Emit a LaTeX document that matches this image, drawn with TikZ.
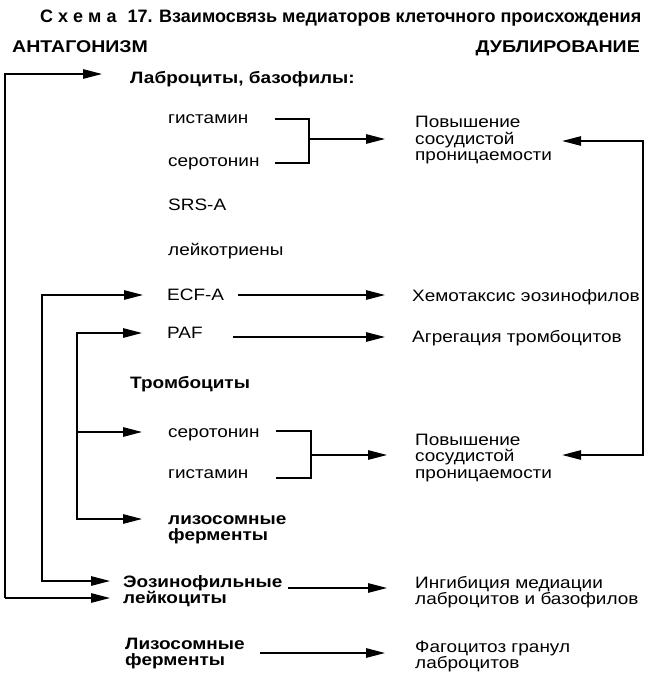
\documentclass[tikz,border=0pt]{standalone}
\usepackage{fontspec}
\setmainfont{Liberation Sans}[FakeStretch=1.15]
\newfontfamily\titlefont{Liberation Sans}
\usetikzlibrary{arrows.meta}
\begin{document}
\begin{tikzpicture}[x=1pt,y=-1pt,
  txt/.style={anchor=base west, inner sep=0pt, align=left, font=\fontsize{16.5}{16.5}\selectfont},
  btxt/.style={anchor=base west, inner sep=0pt, align=left, font=\fontsize{16.5}{16.5}\selectfont\bfseries},
  head/.style={btxt, font=\fontsize{17}{17}\selectfont\bfseries},
  ln/.style={line width=1.3pt},
  arr/.style={ln, -{Triangle[length=19pt,width=9.5pt]}}]
\useasboundingbox[fill=white] (0,0) rectangle (651,676);

% texts (base = baseline of the last line)
\node[btxt, font=\titlefont\fontsize{18}{18}\selectfont\bfseries] (title) at (40,23) {С х е м а\hspace{6pt} 17. Взаимосвязь медиаторов клеточного происхождения};
\node[head] (antag) at (12,53) {АНТАГОНИЗМ};
\node[head, anchor=base east] (dubl) at (640,53) {ДУБЛИРОВАНИЕ};
\node[btxt] (labr) at (130,84) {Лаброциты, базофилы:};
\node[txt] (gist1) at (168,124) {гистамин};
\node[txt] (ser1) at (168,167) {серотонин};
\node[txt] (pov1) at (415,161) {Повышение\\сосудистой\\проницаемости};
\node[txt] (srs) at (168,211) {SRS-A};
\node[txt] (leik) at (168,255) {лейкотриены};
\node[txt] (ecf) at (167,300) {ECF-A};
\node[txt] (hemo) at (412,301) {Хемотаксис эозинофилов};
\node[txt] (paf) at (167,338) {PAF};
\node[txt] (agr) at (412,342) {Агрегация тромбоцитов};
\node[btxt] (tromb) at (130,388) {Тромбоциты};
\node[txt] (ser2) at (168,437) {серотонин};
\node[txt] (gist2) at (168,478) {гистамин};
\node[txt] (pov2) at (415,478) {Повышение\\сосудистой\\проницаемости};
\node[btxt] (liz1) at (168,540.5) {лизосомные\\ферменты};
\node[btxt] (eoz) at (123,603.5) {Эозинофильные\\лейкоциты};
\node[txt] (ing) at (415,604.5) {Ингибиция медиации\\лаброцитов и базофилов};
\node[btxt] (liz2) at (125,665.5) {Лизосомные\\ферменты};
\node[txt] (fag) at (415,668.5) {Фагоцитоз гранул\\лаброцитов};

% junction coordinates
\coordinate (o1) at (5,74);
\coordinate (o2) at (5,598);
\coordinate (m1) at (42,295);
\coordinate (m2) at (42,581);
\coordinate (i1) at (77,333);
\coordinate (i2) at (77,432);
\coordinate (i3) at (77,519);
\coordinate (b1a) at (275,119);
\coordinate (b1b) at (309,119);
\coordinate (b1c) at (309,163);
\coordinate (b1d) at (275,163);
\coordinate (b1m) at (309,139);
\coordinate (b2a) at (276,431);
\coordinate (b2b) at (311,431);
\coordinate (b2c) at (311,478);
\coordinate (b2d) at (276,478);
\coordinate (b2m) at (311,455);
\coordinate (r1) at (643,141);
\coordinate (r2) at (643,455);
\coordinate (ecfR) at (238,295);
\coordinate (pafR) at (233,337);
\coordinate (eozR) at (288,588);
\coordinate (lizR) at (260,653);

% left feedback lines (antagonism)
\draw[arr, shorten >=28pt] (o2) -- (o1) -- (o1 -| labr.west);
\draw[arr, shorten >=13pt] (o2) -- (o2 -| eoz.west);
\draw[arr, shorten >=24pt] (m2) -- (m1) -- (m1 -| ecf.west);
\draw[arr, shorten >=13pt] (m1) -- (m2) -- (m2 -| eoz.west);
\draw[arr, shorten >=25pt] (i3) -- (i1) -- (i1 -| paf.west);
\draw[arr, shorten >=26pt] (i2) -- (i2 -| ser2.west);
\draw[arr, shorten >=26pt] (i1) -- (i3) -- (i3 -| liz1.west);

% brackets
\draw[ln] (b1a) -- (b1b) -- (b1c) -- (b1d);
\draw[arr, shorten >=30pt] (b1m) -- (b1m -| pov1.west);
\draw[ln] (b2a) -- (b2b) -- (b2c) -- (b2d);
\draw[arr, shorten >=28pt] (b2m) -- (b2m -| pov2.west);

% right arrows
\draw[arr, shorten >=27pt] (ecfR) -- (ecfR -| hemo.west);
\draw[arr, shorten >=27pt] (pafR) -- (pafR -| agr.west);
\draw[arr, shorten >=28pt] (eozR) -- (eozR -| ing.west);
\draw[arr, shorten >=30pt] (lizR) -- (lizR -| fag.west);

% duplication line on the right
\draw[arr, shorten >=10pt] (r2) -- (r1) -- (r1 -| pov1.east);
\draw[arr, shorten >=10pt] (r1) -- (r2) -- (r2 -| pov2.east);
\end{tikzpicture}
\end{document}
